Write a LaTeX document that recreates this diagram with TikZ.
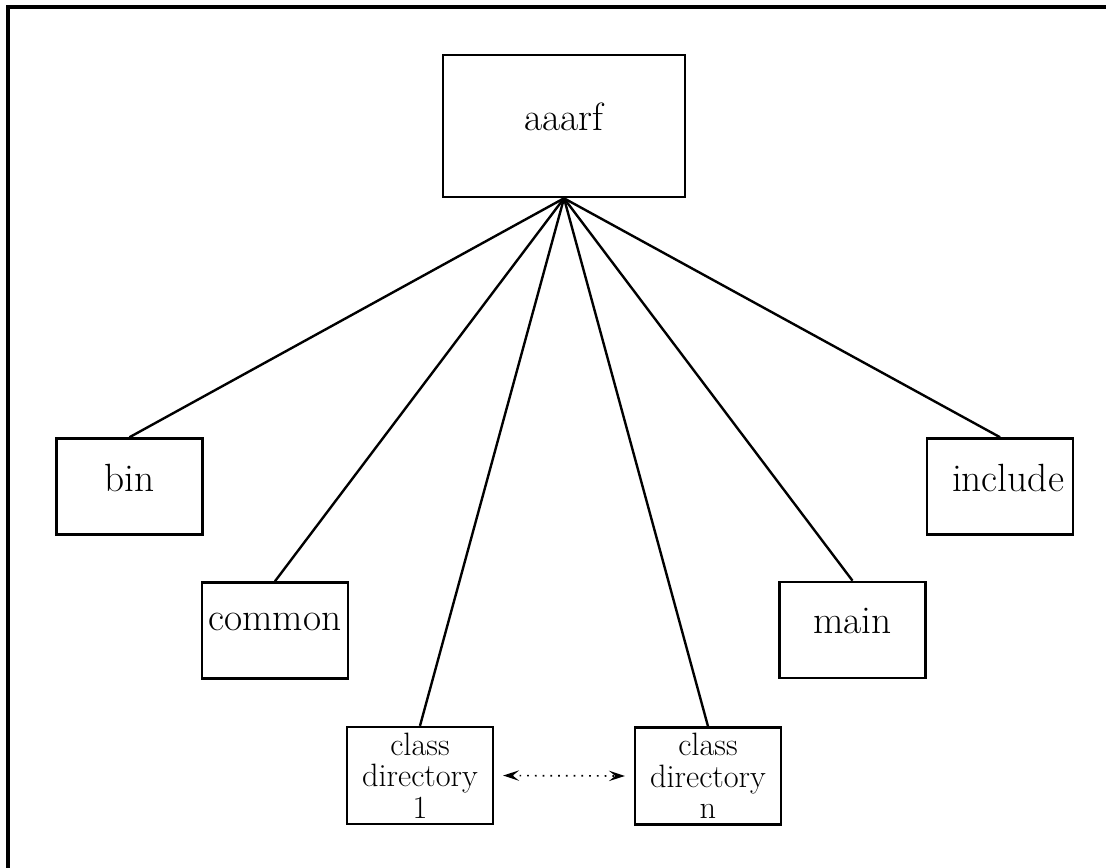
\documentclass[tikz,border=0pt]{standalone}
\usepackage{fontspec}
\usetikzlibrary{arrows.meta}

\begin{document}
\begin{tikzpicture}[
    x=0.025cm, y=-0.025cm,
    dirbox/.style={rectangle, draw=black, line width=1.8pt, minimum width=3.65cm, minimum height=2.4cm, inner sep=0pt, text depth=0.45cm, font=\fontsize{28}{32}\selectfont},
    rootbox/.style={dirbox, minimum width=6.05cm, minimum height=3.55cm},
    classbox/.style={rectangle, draw=black, line width=1.8pt, minimum width=3.65cm, minimum height=2.42cm, inner sep=0pt, align=center, font=\fontsize{23}{22.5}\selectfont},
    line/.style={draw=black, line width=1.7pt},
    link/.style={draw=black, line width=1.2pt, dash pattern=on 1.2pt off 4.3pt, {Stealth[length=4mm, width=2.6mm, inset=1.6mm]}-{Stealth[length=4mm, width=2.6mm, inset=1.6mm]}, shorten <=0.22cm, shorten >=0.22cm}
]
    \useasboundingbox (0,0) rectangle (1106,868);

    % --- FRAME ---
    \draw [line width=2.4pt] (1106,7) -- (8,7) -- (8,868);

    % --- ROOT ---
    \node [rootbox] (aaarf) at (564,126) {aaarf};

    % --- SUBDIRECTORIES ---
    \node [dirbox] (bin) at (129.5,486.5) {bin};
    \node [dirbox] (common) at (275,630.5) {common};
    \node [classbox] (classone) at (420,775.5) {class\\directory\\1};
    \node [classbox] (classn) at (708,776) {class\\directory\\n};
    \node [dirbox] (main) at (852.5,630) {main};
    \node [dirbox] (include) at (1000,486.5) {\hspace{0.4cm}include};

    % --- PATH CONNECTIONS ---
    \path [line] (aaarf.south) -- (bin.north);
    \path [line] (aaarf.south) -- (common.north);
    \path [line] (aaarf.south) -- (classone.north);
    \path [line] (aaarf.south) -- (classn.north);
    \path [line] (aaarf.south) -- (main.north);
    \path [line] (aaarf.south) -- (include.north);

    \path [link] (classone.east) -- (classn.west);

\end{tikzpicture}
\end{document}
